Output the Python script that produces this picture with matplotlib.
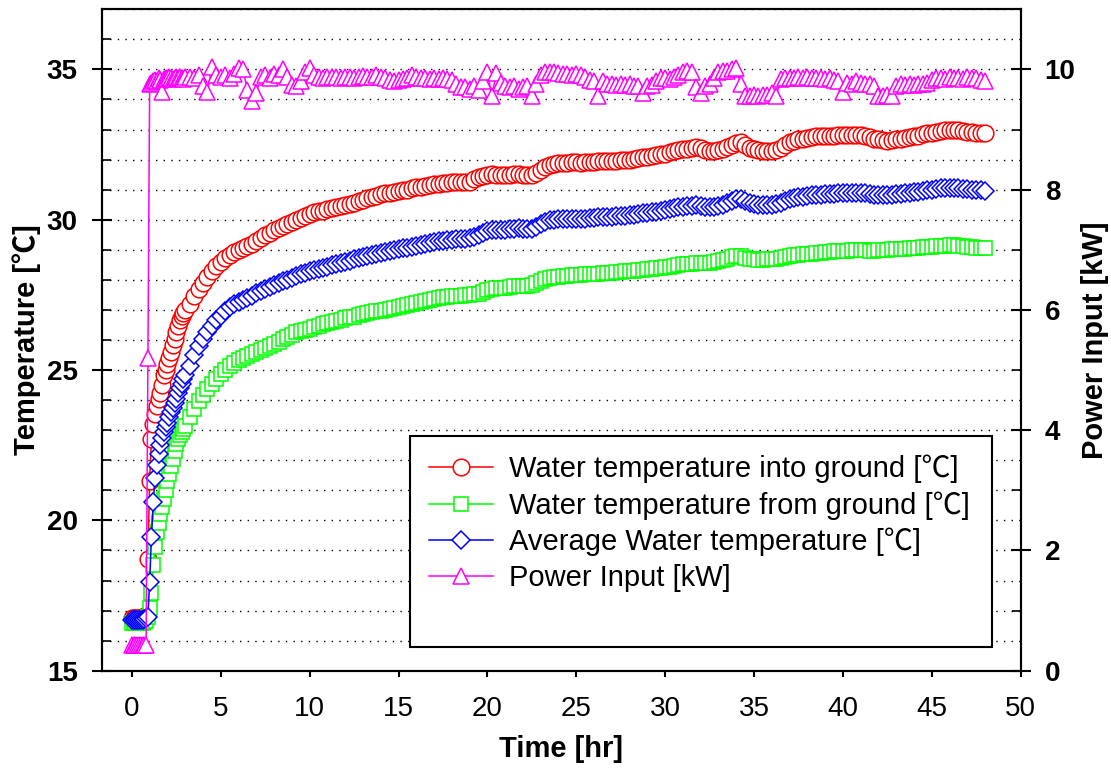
import matplotlib
matplotlib.use("Agg")
import matplotlib.pyplot as plt
from matplotlib.lines import Line2D
from matplotlib.ticker import MultipleLocator

plt.rcParams['font.family'] = ['Liberation Sans', 'Noto Sans CJK KR', 'DejaVu Sans']

# time [hr]: 0.1 h steps up to 3 h, then 0.25 h steps
time_hr = [
    0.0, 0.1, 0.2, 0.3, 0.4, 0.5, 0.6, 0.7, 0.8, 0.9, 1.0,
    1.1, 1.2, 1.3, 1.4, 1.5, 1.6, 1.7, 1.8, 1.9, 2.0,
    2.1, 2.2, 2.3, 2.4, 2.5, 2.6, 2.7, 2.8, 2.9, 3.0,
    3.25, 3.5, 3.75, 4.0, 4.25, 4.5, 4.75, 5.0, 5.25, 5.5, 5.75, 6.0,
    6.25, 6.5, 6.75, 7.0, 7.25, 7.5, 7.75, 8.0, 8.25, 8.5, 8.75, 9.0,
    9.25, 9.5, 9.75, 10.0, 10.25, 10.5, 10.75, 11.0, 11.25, 11.5, 11.75, 12.0,
    12.25, 12.5, 12.75, 13.0, 13.25, 13.5, 13.75, 14.0, 14.25, 14.5, 14.75, 15.0,
    15.25, 15.5, 15.75, 16.0, 16.25, 16.5, 16.75, 17.0, 17.25, 17.5, 17.75, 18.0,
    18.25, 18.5, 18.75, 19.0, 19.25, 19.5, 19.75, 20.0, 20.25, 20.5, 20.75, 21.0,
    21.25, 21.5, 21.75, 22.0, 22.25, 22.5, 22.75, 23.0, 23.25, 23.5, 23.75, 24.0,
    24.25, 24.5, 24.75, 25.0, 25.25, 25.5, 25.75, 26.0, 26.25, 26.5, 26.75, 27.0,
    27.25, 27.5, 27.75, 28.0, 28.25, 28.5, 28.75, 29.0, 29.25, 29.5, 29.75, 30.0,
    30.25, 30.5, 30.75, 31.0, 31.25, 31.5, 31.75, 32.0, 32.25, 32.5, 32.75, 33.0,
    33.25, 33.5, 33.75, 34.0, 34.25, 34.5, 34.75, 35.0, 35.25, 35.5, 35.75, 36.0,
    36.25, 36.5, 36.75, 37.0, 37.25, 37.5, 37.75, 38.0, 38.25, 38.5, 38.75, 39.0,
    39.25, 39.5, 39.75, 40.0, 40.25, 40.5, 40.75, 41.0, 41.25, 41.5, 41.75, 42.0,
    42.25, 42.5, 42.75, 43.0, 43.25, 43.5, 43.75, 44.0, 44.25, 44.5, 44.75, 45.0,
    45.25, 45.5, 45.75, 46.0, 46.25, 46.5, 46.75, 47.0, 47.25, 47.5, 47.75, 48.0,
]

# water temperature into ground [C]
temp_in = [
    16.75, 16.75, 16.75, 16.75, 16.75, 16.75, 16.8, 16.8, 16.85, 18.7, 21.3,
    22.7, 23.2, 23.55, 23.8, 24.05, 24.25, 24.5, 24.85, 25.0, 25.2,
    25.4, 25.6, 25.85, 26.05, 26.25, 26.45, 26.65, 26.8, 26.9, 27.0,
    27.2, 27.45, 27.7, 27.9, 28.1, 28.3, 28.45, 28.6, 28.72, 28.82, 28.92, 29.0,
    29.05, 29.12, 29.2, 29.3, 29.4, 29.5, 29.57, 29.65, 29.72, 29.8, 29.85, 29.92,
    30.0, 30.05, 30.12, 30.2, 30.25, 30.28, 30.3, 30.35, 30.38, 30.42, 30.45, 30.5,
    30.53, 30.57, 30.62, 30.67, 30.72, 30.76, 30.8, 30.85, 30.88, 30.9, 30.93, 30.96,
    30.98, 31.0, 31.05, 31.08, 31.1, 31.13, 31.15, 31.18, 31.2, 31.22, 31.22, 31.25,
    31.25, 31.25, 31.27, 31.27, 31.35, 31.42, 31.47, 31.5, 31.52, 31.5, 31.5, 31.48,
    31.5, 31.52, 31.52, 31.5, 31.48, 31.5, 31.55, 31.65, 31.75, 31.82, 31.86, 31.88,
    31.9, 31.9, 31.92, 31.92, 31.9, 31.92, 31.93, 31.93, 31.95, 31.95, 31.95, 31.96,
    31.97, 31.98, 32.0, 32.0, 32.02, 32.05, 32.08, 32.1, 32.13, 32.15, 32.18, 32.2,
    32.25, 32.28, 32.32, 32.35, 32.37, 32.4, 32.42, 32.38, 32.33, 32.3, 32.3, 32.32,
    32.35, 32.42, 32.5, 32.56, 32.58, 32.5, 32.4, 32.35, 32.32, 32.3, 32.3, 32.3,
    32.32, 32.4, 32.5, 32.58, 32.63, 32.67, 32.7, 32.73, 32.75, 32.77, 32.78, 32.8,
    32.8, 32.8, 32.82, 32.82, 32.82, 32.83, 32.83, 32.82, 32.8, 32.75, 32.7, 32.67,
    32.65, 32.63, 32.65, 32.68, 32.7, 32.72, 32.75, 32.78, 32.8, 32.85, 32.88, 32.9,
    32.93, 32.96, 32.97, 32.98, 32.98, 32.97, 32.95, 32.93, 32.92, 32.9, 32.9, 32.9,
]

# water temperature from ground [C]
temp_out = [
    16.6, 16.6, 16.6, 16.6, 16.6, 16.6, 16.6, 16.62, 16.65, 16.8, 17.1,
    17.6, 18.5, 19.1, 19.6, 19.9, 20.2, 20.45, 20.7, 21.0, 21.3,
    21.55, 21.8, 22.05, 22.3, 22.55, 22.7, 22.85, 22.95, 23.05, 23.15,
    23.45, 23.72, 23.97, 24.18, 24.37, 24.53, 24.7, 24.87, 25.0, 25.12, 25.22, 25.32,
    25.4, 25.47, 25.53, 25.6, 25.66, 25.72, 25.8, 25.88, 25.95, 26.02, 26.1, 26.18,
    26.25, 26.3, 26.34, 26.38, 26.42, 26.47, 26.52, 26.56, 26.6, 26.64, 26.68, 26.72,
    26.75, 26.78, 26.82, 26.86, 26.89, 26.92, 26.95, 26.98, 27.01, 27.04, 27.07, 27.1,
    27.13, 27.16, 27.2, 27.24, 27.27, 27.3, 27.33, 27.36, 27.39, 27.42, 27.44, 27.46,
    27.47, 27.48, 27.5, 27.5, 27.52, 27.53, 27.6, 27.67, 27.7, 27.72, 27.73, 27.74,
    27.76, 27.78, 27.8, 27.8, 27.8, 27.82, 27.88, 27.95, 28.02, 28.06, 28.08, 28.1,
    28.12, 28.14, 28.15, 28.16, 28.17, 28.18, 28.2, 28.2, 28.21, 28.22, 28.23, 28.24,
    28.25, 28.26, 28.28, 28.3, 28.31, 28.32, 28.33, 28.35, 28.36, 28.38, 28.4, 28.42,
    28.44, 28.47, 28.5, 28.52, 28.53, 28.54, 28.55, 28.55, 28.55, 28.56, 28.58, 28.62,
    28.66, 28.7, 28.75, 28.8, 28.78, 28.74, 28.7, 28.68, 28.67, 28.67, 28.68, 28.68,
    28.7, 28.73, 28.77, 28.8, 28.82, 28.84, 28.85, 28.86, 28.87, 28.88, 28.9, 28.92,
    28.94, 28.95, 28.96, 28.97, 28.97, 28.98, 28.98, 28.98, 28.98, 28.97, 28.97, 28.98,
    29.0, 29.0, 29.02, 29.02, 29.03, 29.04, 29.05, 29.06, 29.07, 29.08, 29.1, 29.11,
    29.12, 29.13, 29.14, 29.15, 29.15, 29.14, 29.12, 29.1, 29.08, 29.07, 29.06, 29.05,
]

# average water temperature [C]
temp_avg = [
    16.7, 16.7, 16.7, 16.7, 16.7, 16.7, 16.7, 16.72, 16.75, 16.8, 17.95,
    19.45, 20.6, 21.4, 21.85, 22.2, 22.5, 22.75, 22.95, 23.1, 23.25,
    23.45, 23.6, 23.75, 23.9, 24.05, 24.25, 24.4, 24.55, 24.7, 24.85,
    25.15, 25.5, 25.8, 26.05, 26.25, 26.45, 26.65, 26.8, 26.95, 27.1, 27.2, 27.28,
    27.34, 27.4, 27.47, 27.55, 27.63, 27.7, 27.76, 27.83, 27.9, 27.95, 28.01, 28.07,
    28.13, 28.18, 28.23, 28.28, 28.32, 28.36, 28.4, 28.44, 28.48, 28.52, 28.56, 28.6,
    28.64, 28.68, 28.72, 28.77, 28.8, 28.84, 28.87, 28.9, 28.93, 28.96, 28.99, 29.02,
    29.05, 29.07, 29.1, 29.14, 29.17, 29.2, 29.23, 29.26, 29.28, 29.3, 29.32, 29.34,
    29.35, 29.36, 29.37, 29.38, 29.42, 29.48, 29.56, 29.62, 29.65, 29.66, 29.66, 29.66,
    29.68, 29.7, 29.72, 29.7, 29.68, 29.7, 29.76, 29.85, 29.93, 29.98, 30.0, 30.02,
    30.03, 30.03, 30.04, 30.04, 30.03, 30.04, 30.06, 30.06, 30.08, 30.08, 30.09, 30.1,
    30.11, 30.12, 30.14, 30.15, 30.17, 30.19, 30.21, 30.23, 30.25, 30.27, 30.29, 30.31,
    30.35, 30.38, 30.41, 30.44, 30.45, 30.47, 30.48, 30.46, 30.44, 30.43, 30.44, 30.47,
    30.5, 30.56, 30.62, 30.68, 30.68, 30.62, 30.55, 30.51, 30.49, 30.48, 30.49, 30.49,
    30.51, 30.56, 30.63, 30.69, 30.72, 30.75, 30.77, 30.79, 30.81, 30.82, 30.84, 30.86,
    30.87, 30.87, 30.89, 30.89, 30.9, 30.9, 30.9, 30.9, 30.89, 30.86, 30.83, 30.82,
    30.82, 30.81, 30.83, 30.85, 30.86, 30.88, 30.9, 30.92, 30.93, 30.96, 30.99, 31.0,
    31.02, 31.04, 31.05, 31.06, 31.06, 31.05, 31.03, 31.01, 31.0, 30.98, 30.98, 30.97,
]

# power input [kW]
power_kw = [
    0.43, 0.43, 0.43, 0.43, 0.43, 0.43, 0.43, 0.43, 0.43, 5.2, 9.75,
    9.78, 9.8, 9.82, 9.8, 9.85, 9.83, 9.62, 9.84, 9.86, 9.85,
    9.87, 9.85, 9.84, 9.86, 9.88, 9.85, 9.87, 9.86, 9.84, 9.87,
    9.88, 9.86, 9.9, 9.72, 9.62, 10.04, 9.9, 9.87, 9.9, 9.86, 9.92, 10.02,
    10.0, 9.66, 9.48, 9.6, 9.88, 9.9, 9.86, 9.92, 9.9, 10.0, 9.88, 9.74,
    9.72, 9.8, 9.95, 10.02, 9.9, 9.87, 9.86, 9.88, 9.87, 9.88, 9.86, 9.87,
    9.88, 9.86, 9.88, 9.89, 9.87, 9.88, 9.9, 9.88, 9.85, 9.82, 9.8, 9.82,
    9.84, 9.86, 9.9, 9.88, 9.85, 9.86, 9.84, 9.85, 9.84, 9.86, 9.84, 9.82,
    9.76, 9.7, 9.7, 9.68, 9.72, 9.66, 9.8, 9.96, 9.55, 9.94, 9.78, 9.72,
    9.7, 9.72, 9.68, 9.7, 9.72, 9.55, 9.75, 9.9, 9.96, 9.95, 9.96, 9.94,
    9.92, 9.93, 9.9, 9.92, 9.9, 9.88, 9.82, 9.8, 9.55, 9.8, 9.76, 9.75,
    9.74, 9.76, 9.74, 9.75, 9.73, 9.72, 9.6, 9.72, 9.74, 9.8, 9.85, 9.86,
    9.84, 9.87, 9.9, 9.95, 9.97, 9.96, 9.7, 9.6, 9.72, 9.75, 9.85, 9.95,
    9.98, 9.97, 10.0, 10.02, 9.75, 9.56, 9.55, 9.57, 9.56, 9.58, 9.57, 9.6,
    9.55, 9.84, 9.85, 9.86, 9.85, 9.87, 9.86, 9.88, 9.86, 9.85, 9.86, 9.84,
    9.85, 9.82, 9.8, 9.62, 9.78, 9.76, 9.8, 9.78, 9.75, 9.76, 9.72, 9.56,
    9.55, 9.57, 9.55, 9.72, 9.75, 9.74, 9.76, 9.74, 9.76, 9.75, 9.78, 9.82,
    9.85, 9.86, 9.84, 9.88, 9.85, 9.86, 9.84, 9.88, 9.86, 9.85, 9.82, 9.8,
]

labels = [
    'Water temperature into ground [\u2103]',
    'Water temperature from ground [\u2103]',
    'Average Water temperature [\u2103]',
    'Power Input [kW]',
]

fig = plt.figure(figsize=(11.11, 7.69), dpi=100)
ax = fig.add_axes([0.0915, 0.1278, 0.8272, 0.8601])
ax2 = ax.twinx()

mk = dict(mfc='white', mew=1.1, lw=1.1)
l1, = ax.plot(time_hr, temp_in, color='#ff0000', marker='o', ms=12, **mk)
l2, = ax.plot(time_hr, temp_out, color='#00ff00', marker='s', ms=10.5, **mk)
l3, = ax.plot(time_hr, temp_avg, color='#0000ff', marker='D', ms=9, **mk)
l4, = ax2.plot(time_hr, power_kw, color='#ff00ff', marker='^', ms=11, **mk)

ax.set_xlim(-1.7, 50)
ax.set_ylim(15, 37)
ax2.set_ylim(0, 11)

ax.xaxis.set_major_locator(MultipleLocator(5))
ax.yaxis.set_major_locator(MultipleLocator(5))
ax.yaxis.set_minor_locator(MultipleLocator(1))
ax2.yaxis.set_major_locator(MultipleLocator(2))
ax2.yaxis.set_minor_locator(MultipleLocator(1))

ax.yaxis.grid(True, which='both', linestyle=(0, (1, 4.5)), color='black', lw=1)

for a in (ax, ax2):
    for s in a.spines.values():
        s.set_linewidth(1.5)

ax.tick_params(axis='x', direction='out', length=4.5, width=1.5, pad=14, labelsize=20)
ax.tick_params(axis='y', which='major', direction='inout', length=14.5, width=1.5,
               pad=10, labelsize=20)
ax.tick_params(axis='y', which='minor', direction='in', length=6.5, width=1.2)
ax2.tick_params(axis='y', which='major', direction='inout', length=14.5, width=1.5,
                pad=10, labelsize=20)
ax2.tick_params(axis='y', which='minor', direction='in', length=6.5, width=1.2)
for t in ax.get_yticklabels() + ax2.get_yticklabels():
    t.set_fontweight('bold')

ax.set_xlabel('Time [hr]', fontsize=21, fontweight='bold', labelpad=9)
ax.set_ylabel('Temperature [\u2103]', fontsize=21, fontweight='bold', labelpad=4)
ax2.set_ylabel('Power Input [kW]', fontsize=21, fontweight='bold', labelpad=4)

blank = Line2D([], [], linestyle='none')
leg = ax2.legend([l1, l2, l3, l4, blank], labels + [' '],
                 loc='upper left', bbox_to_anchor=(0.3355, 0.0313, 0.6336, 0.3236),
                 mode='expand', borderaxespad=0, fontsize=21, labelspacing=0.27,
                 handlelength=2.2, handletextpad=0.55, borderpad=0.65,
                 numpoints=1, fancybox=False, framealpha=1, edgecolor='black')
leg.get_frame().set_linewidth(1.5)

fig.savefig('out.png', dpi=100)
